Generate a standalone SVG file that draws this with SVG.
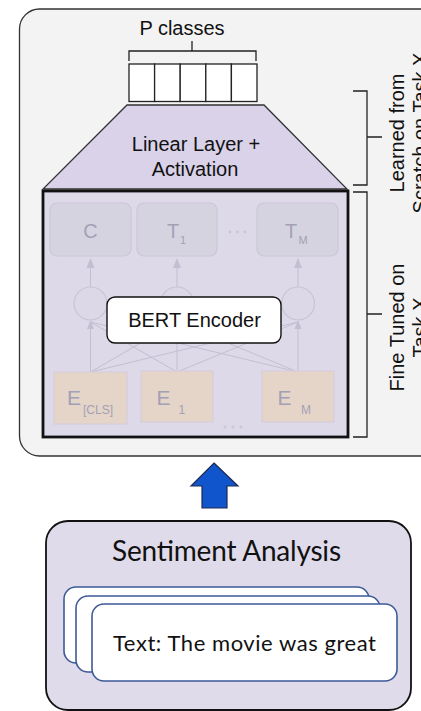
<svg xmlns="http://www.w3.org/2000/svg" width="421" height="711" viewBox="0 0 421 711">
<defs>
<style>
.ar{font-family:"Liberation Sans",Arial,sans-serif;fill:#111}
.gs{font-family:Lato,"Open Sans",sans-serif;fill:#111}
.fd{font-family:"Liberation Sans",Arial,sans-serif;fill:#a3a0b5}
.br{fill:none;stroke:#222;stroke-width:1.3}
.fbox{fill:#d6d3e0;stroke:#cbc7da;stroke-width:1.2}
.ebox{fill:#e5d5c9;stroke:#d6cedb;stroke-width:1.2}
.fl{stroke:#c3bfd2;stroke-width:1;fill:none}
.fc{fill:#dcd8e7;stroke:#c8c4d6;stroke-width:1.2}
.fa{fill:#c3bfd2}
.card{fill:#fff;stroke:#3d5a96;stroke-width:1.6}
</style>
</defs>

<g id="panel">
<rect x="19.5" y="9" width="430" height="447" rx="20" fill="#f3f3f3" stroke="#333" stroke-width="1.3"/>
</g>

<g id="p-classes">
<text class="ar" x="182" y="34.5" font-size="20" text-anchor="middle">P classes</text>
<g fill="#fff" stroke="#222" stroke-width="1.3">
<rect x="129" y="64" width="25.6" height="37.5"/>
<rect x="154.6" y="64" width="25.6" height="37.5"/>
<rect x="180.2" y="64" width="25.6" height="37.5"/>
<rect x="205.8" y="64" width="25.6" height="37.5"/>
<rect x="231.4" y="64" width="25.6" height="37.5"/>
</g>
</g>

<g id="linear-layer">
<polygon points="127,105 264,105 347,189 43,189" fill="#d9d2e9" stroke="#333" stroke-width="1.3"/>
<text class="ar" x="196" y="151" font-size="20" text-anchor="middle">Linear Layer +</text>
<text class="ar" x="195" y="176" font-size="20" text-anchor="middle">Activation</text>
</g>

<g id="bert">
<rect x="43" y="191" width="305" height="246" fill="#ddd9e9"/>
<g id="bert-top">
<rect class="fbox" x="50" y="203" width="81" height="53" rx="7"/>
<rect class="fbox" x="137" y="203" width="80" height="53" rx="7"/>
<rect class="fbox" x="257" y="203" width="81" height="53" rx="7"/>
<text class="fd" x="90.5" y="237.5" font-size="20" text-anchor="middle">C</text>
<text class="fd" x="167" y="237.5" font-size="20">T</text>
<text class="fd" x="180" y="244" font-size="11">1</text>
<text class="fd" x="285" y="237.5" font-size="20">T</text>
<text class="fd" x="298.5" y="244" font-size="11">M</text>
<g fill="#c9c5d6"><circle cx="230" cy="232" r="1.4"/><circle cx="237.5" cy="232" r="1.4"/><circle cx="245" cy="232" r="1.4"/></g>
</g>
<g id="bert-mid">
<path class="fl" d="M90.5 287V266M177 287V266M298 287V266"/>
<polygon class="fa" points="86.5,268 94.5,268 90.5,258"/>
<polygon class="fa" points="173,268 181,268 177,258"/>
<polygon class="fa" points="294,268 302,268 298,258"/>
<path class="fl" d="M90.5 372L90.5 322M90.5 372L177 322M90.5 372L298 322M177 372L90.5 322M177 372L177 322M177 372L298 322M298 372L90.5 322M298 372L177 322M298 372L298 322"/>
<circle class="fc" cx="90.5" cy="303.5" r="16.5"/>
<circle class="fc" cx="177" cy="303.5" r="16.5"/>
<circle class="fc" cx="298" cy="303.5" r="16.5"/>
<polygon class="fa" points="87,329 94,329 90.5,320"/>
<polygon class="fa" points="173.5,329 180.5,329 177,320"/>
<polygon class="fa" points="294.5,329 301.5,329 298,320"/>
</g>
<g id="bert-bottom">
<rect class="ebox" x="54" y="372" width="73" height="52"/>
<rect class="ebox" x="141" y="371" width="72" height="51"/>
<rect class="ebox" x="262" y="371" width="72" height="51"/>
<text class="fd" x="67" y="405" font-size="21">E</text>
<text class="fd" x="83" y="414" font-size="12">[CLS]</text>
<text class="fd" x="156.5" y="405" font-size="21">E</text>
<text class="fd" x="178.5" y="414" font-size="12">1</text>
<text class="fd" x="277.5" y="405" font-size="21">E</text>
<text class="fd" x="301" y="414" font-size="12">M</text>
<g fill="#cbc7d8"><circle cx="225" cy="427" r="1.5"/><circle cx="233" cy="427" r="1.5"/><circle cx="241" cy="427" r="1.5"/></g>
</g>
<rect x="43" y="191" width="305" height="246" fill="none" stroke="#111" stroke-width="2.8"/>
</g>

<g id="bert-encoder">
<rect x="107" y="297" width="174" height="46" rx="8" fill="#fff" stroke="#111" stroke-width="1.4"/>
<text class="ar" x="194.5" y="327" font-size="20" text-anchor="middle">BERT Encoder</text>
</g>

<g id="label-learned">
<text class="ar" transform="translate(404,133) rotate(-90)" font-size="20" text-anchor="middle">Learned from</text>
<text class="ar" transform="translate(427,133) rotate(-90)" font-size="20" text-anchor="middle">Scratch on Task X</text>
</g>

<g id="label-fine">
<text class="ar" transform="translate(404,327.5) rotate(-90)" font-size="20" text-anchor="middle">Fine Tuned on</text>
<text class="ar" transform="translate(427,327.5) rotate(-90)" font-size="20" text-anchor="middle">Task X</text>
</g>

<g id="sentiment">
<rect x="46" y="521" width="365" height="189" rx="22" fill="#dfdbea" stroke="#111" stroke-width="1.8"/>
<text class="gs" x="226.5" y="561" font-size="28" text-anchor="middle" textLength="229">Sentiment Analysis</text>
<rect class="card" x="64" y="587" width="305" height="76" rx="12"/>
<rect class="card" x="76" y="596" width="304" height="76" rx="12"/>
<rect class="card" x="92" y="604" width="305" height="77" rx="12"/>
<text class="gs" x="244.5" y="651" font-size="22" text-anchor="middle" textLength="263">Text: The movie was great</text>
</g>

<g id="connectors">
<path class="br" d="M129 61V51H256V61M192 51V41"/>
<path class="br" d="M353 91H367V185H353M367 137H382"/>
<path class="br" d="M353 192H367V437H353M367 314H382"/>
<polygon points="214,463 238,486 227,486 227,508 202,508 202,486 191,486" fill="#1155cc" stroke="#1c2a50" stroke-width="1.2"/>
</g>
</svg>
